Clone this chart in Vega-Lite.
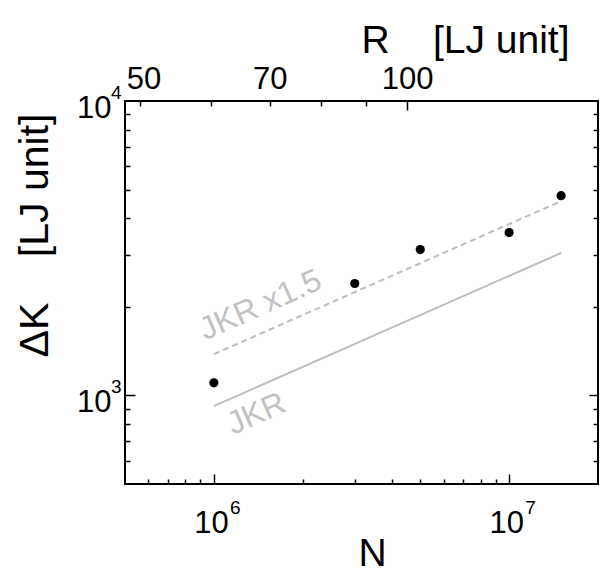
{
  "$schema": "https://vega.github.io/schema/vega-lite/v6.json",
  "width": 473,
  "height": 383,
  "autosize": {"type": "none"},
  "padding": {"left": 125, "top": 101, "right": 6, "bottom": 84},
  "background": "white",
  "config": {
    "view": {"stroke": "#000000", "strokeWidth": 2},
    "font": "Liberation Sans",
    "axis": {
      "grid": false,
      "domain": false,
      "labelFont": "Liberation Sans",
      "titleFont": "Liberation Sans",
      "labelColor": "#000000",
      "titleColor": "#000000",
      "tickColor": "#000000",
      "tickWidth": 1.5,
      "labelFontWeight": "normal",
      "titleFontWeight": "normal",
      "labelOverlap": false,
      "labelBound": false,
      "labelFlush": false
    }
  },
  "datasets": {
    "pts": [
      {"N": 1000000, "K": 1103},
      {"N": 3000000, "K": 2399},
      {"N": 5000000, "K": 3129},
      {"N": 10000000, "K": 3572},
      {"N": 15000000, "K": 4769}
    ],
    "jkr": [
      {"N": 1000000, "K": 920},
      {"N": 15000000, "K": 3046}
    ],
    "jkr15": [
      {"N": 1000000, "K": 1380},
      {"N": 15000000, "K": 4569}
    ],
    "labels": [
      {"N": 935000, "K": 1535, "label": "JKR x1.5"},
      {"N": 1160000, "K": 733, "label": "JKR"}
    ],
    "rvals": [
      {"R": 50},
      {"R": 100}
    ]
  },
  "resolve": {
    "scale": {"x": "independent"},
    "axis": {"x": "independent", "y": "independent"}
  },
  "layer": [
    {
      "data": {"name": "jkr"},
      "mark": {"type": "line", "color": "#bdbdbd", "strokeWidth": 2},
      "encoding": {
        "x": {
          "field": "N", "type": "quantitative",
          "scale": {"type": "log", "domain": [500000, 20000000], "nice": false},
          "axis": {
            "orient": "bottom",
            "values": [600000, 700000, 800000, 900000, 1000000, 2000000, 3000000, 4000000, 5000000, 6000000, 7000000, 8000000, 9000000, 10000000],
            "labels": false,
            "title": null,
            "tickSize": {"condition": {"test": "datum.value == 1000000 || datum.value == 10000000", "value": -10}, "value": -5}
          }
        },
        "y": {
          "field": "K", "type": "quantitative",
          "scale": {"type": "log", "domain": [500, 10000], "nice": false},
          "axis": {
            "orient": "left",
            "values": [600, 700, 800, 900, 1000, 2000, 3000, 4000, 5000, 6000, 7000, 8000, 9000],
            "labels": false,
            "title": null,
            "tickSize": {"condition": {"test": "datum.value == 1000", "value": -10}, "value": -5}
          }
        }
      }
    },
    {
      "data": {"name": "jkr15"},
      "mark": {"type": "line", "color": "#bdbdbd", "strokeWidth": 2, "strokeDash": [6, 4]},
      "encoding": {
        "x": {
          "field": "N", "type": "quantitative",
          "scale": {"type": "log", "domain": [500000, 20000000], "nice": false},
          "axis": {
            "orient": "bottom",
            "values": [1000000, 10000000],
            "ticks": false,
            "labelExpr": "'10'",
            "labelFontSize": 31,
            "labelPadding": 24,
            "labelOffset": -3,
            "title": "N",
            "titleFontSize": 39,
            "titleX": 247,
            "titleY": 81,
            "titleAlign": "center",
            "titleBaseline": "alphabetic"
          }
        },
        "y": {
          "field": "K", "type": "quantitative",
          "scale": {"type": "log", "domain": [500, 10000], "nice": false},
          "axis": {
            "orient": "left",
            "values": [1000, 10000],
            "ticks": false,
            "labelExpr": "'10'",
            "labelFontSize": 31,
            "labelAlign": "right",
            "labelPadding": 14,
            "labelOffset": 7,
            "labelBaseline": "middle",
            "title": "ΔK\u00a0\u00a0\u00a0\u00a0[LJ unit]",
            "titleFontSize": 41,
            "titleAngle": 270,
            "titleX": -78,
            "titleY": 134,
            "titleAlign": "center",
            "titleBaseline": "alphabetic"
          }
        }
      }
    },
    {
      "data": {"name": "pts"},
      "mark": {"type": "circle", "color": "#000000", "opacity": 1, "size": 85},
      "encoding": {
        "x": {
          "field": "N", "type": "quantitative",
          "scale": {"type": "log", "domain": [500000, 20000000], "nice": false},
          "axis": null
        },
        "y": {
          "field": "K", "type": "quantitative",
          "scale": {"type": "log", "domain": [500, 10000], "nice": false},
          "axis": {
            "orient": "right",
            "values": [600, 700, 800, 900, 1000, 2000, 3000, 4000, 5000, 6000, 7000, 8000, 9000],
            "labels": false,
            "title": null,
            "tickSize": {"condition": {"test": "datum.value == 1000", "value": -9}, "value": -5}
          }
        }
      }
    },
    {
      "data": {"name": "labels"},
      "mark": {"type": "text", "align": "left", "baseline": "alphabetic", "angle": -24, "fontSize": 32, "color": "#c2c2c2", "font": "Liberation Sans"},
      "encoding": {
        "x": {
          "field": "N", "type": "quantitative",
          "scale": {"type": "log", "domain": [500000, 20000000], "nice": false},
          "axis": {
            "orient": "bottom",
            "values": [1000000, 10000000],
            "ticks": false,
            "labelExpr": "datum.value == 1000000 ? '6' : '7'",
            "labelFontSize": 19,
            "labelBaseline": "alphabetic",
            "labelPadding": 29,
            "labelOffset": 21,
            "title": null
          }
        },
        "y": {
          "field": "K", "type": "quantitative",
          "scale": {"type": "log", "domain": [500, 10000], "nice": false},
          "axis": {
            "orient": "left",
            "values": [1000, 10000],
            "ticks": false,
            "labelExpr": "datum.value == 1000 ? '3' : '4'",
            "labelFontSize": 19,
            "labelAlign": "right",
            "labelBaseline": "alphabetic",
            "labelPadding": 4,
            "labelOffset": -3,
            "title": null
          }
        },
        "text": {"field": "label", "type": "nominal"}
      }
    },
    {
      "data": {"name": "rvals"},
      "mark": {"type": "point", "opacity": 0},
      "encoding": {
        "x": {
          "field": "R", "type": "quantitative",
          "scale": {"type": "log", "domain": [48.04, 164.3], "nice": false},
          "axis": {
            "orient": "top",
            "values": [50, 60, 70, 80, 90, 100],
            "labels": false,
            "title": null,
            "tickSize": {"condition": {"test": "datum.value == 100", "value": -9}, "value": -5}
          }
        }
      }
    },
    {
      "data": {"name": "rvals"},
      "mark": {"type": "point", "opacity": 0},
      "encoding": {
        "x": {
          "field": "R", "type": "quantitative",
          "scale": {"type": "log", "domain": [48.04, 164.3], "nice": false},
          "axis": {
            "orient": "top",
            "values": [50, 70, 100],
            "ticks": false,
            "labelExpr": "format(datum.value, 'd')",
            "labelFontSize": 31,
            "labelBaseline": "alphabetic",
            "labelPadding": 13,
            "labelOffset": {"condition": {"test": "datum.value == 50", "value": 3}, "value": 0},
            "title": "R\u00a0\u00a0\u00a0\u00a0[LJ unit]",
            "titleFontSize": 39,
            "titleX": 340,
            "titleY": -49,
            "titleAlign": "center",
            "titleBaseline": "alphabetic"
          }
        }
      }
    }
  ]
}
